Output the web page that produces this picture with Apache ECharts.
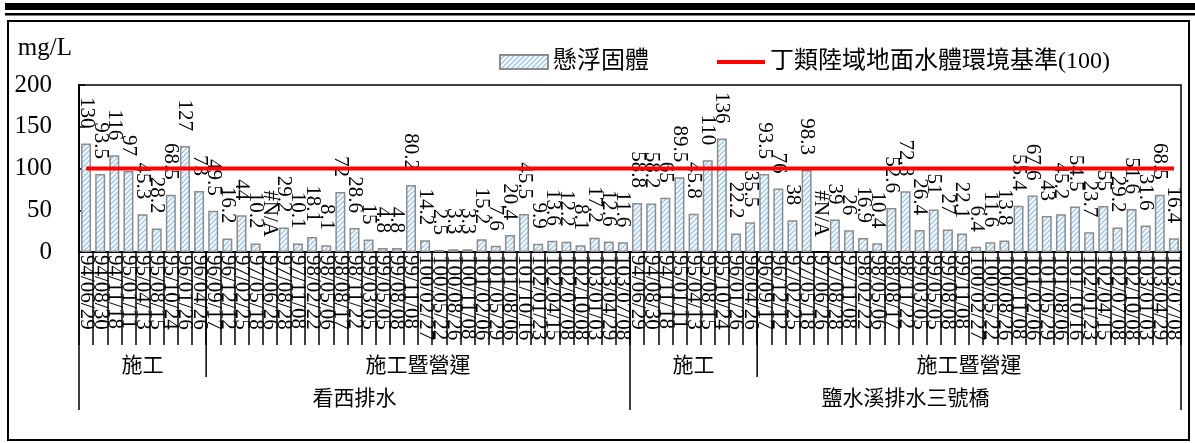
<!DOCTYPE html>
<html>
<head>
<meta charset="utf-8">
<title>懸浮固體</title>
<script src="https://cdn.jsdelivr.net/npm/echarts@6/dist/echarts.min.js"></script>
<style>
    html, body { margin: 0; padding: 0; background: #fff; }
    #chart { width: 1195px; height: 443px; }
</style>
</head>
<body>
<div id="chart"></div>
<script>
'use strict';

// 測站與階段
var stationNames = ['看西排水', '鹽水溪排水三號橋'];
var phaseNames = ['施工', '施工暨營運'];
var phaseSizes = [9, 30];

// 採樣日期（兩測站相同）
var sampleDates = [
    '94/06/29', '94/08/30', '94/11/18', '95/01/11', '95/04/13', '95/08/15', '95/10/24', '96/01/26', '96/04/26',
    '96/09/17', '96/12/12', '97/02/25', '97/05/18', '97/06/26', '97/08/28', '97/11/08', '98/02/22', '98/05/06',
    '98/08/17', '98/11/22', '99/03/05', '99/05/05', '99/08/08', '99/11/08', '100/02/27', '100/05/22', '100/08/26',
    '100/11/08', '101/02/06', '101/05/29', '101/08/06', '101/10/16', '102/01/23', '102/04/15', '102/07/08',
    '102/10/08', '103/01/03', '103/04/29', '103/07/08'
];

// 懸浮固體 mg/L，null 表示 #N/A
var ssKanxi = [130, 93.5, 116, 97, 45.3, 28.2, 68.5, 127, 73,
    49.5, 16.2, 44, 10.2, null, 29.2, 10.1, 18.1, 8.1, 72,
    28.6, 15, 4.8, 4.8, 80.2, 14.2, 2.5, 3.3, 3.3, 15.2,
    7.6, 20.4, 45.5, 9.9, 13.6, 12.2, 8.1, 17.2, 12.6, 11.6];
var ssYanshui = [58.8, 58.2, 65, 89.5, 45.8, 110, 136, 22.2, 35.5,
    93.5, 76, 38, 98.3, null, 39, 26, 16.9, 10.4, 52.6,
    72.8, 26.4, 51, 27, 22.1, 6.4, 11.6, 13.8, 55.4, 67.6,
    43, 45.2, 54.5, 23.7, 55, 29.2, 51.6, 31.6, 68.5, 16.4];

// 丁類陸域地面水體環境基準
var standardValue = 100;
var yTicks = [0, 50, 100, 150, 200];

var serif = "'Liberation Serif', 'Noto Sans CJK TC'";

// 斜線填充
var hatch = document.createElement('canvas');
hatch.width = 5;
hatch.height = 5;
(function () {
    var ctx = hatch.getContext('2d');
    ctx.fillStyle = '#ffffff';
    ctx.fillRect(0, 0, 5, 5);
    ctx.strokeStyle = '#a9cdf0';
    ctx.lineWidth = 1.6;
    ctx.beginPath();
    ctx.moveTo(-1, 6); ctx.lineTo(6, -1);
    ctx.moveTo(-1, 1); ctx.lineTo(1, -1);
    ctx.moveTo(4, 6); ctx.lineTo(6, 4);
    ctx.stroke();
})();

var categories = sampleDates.concat(sampleDates);
var ssAll = ssKanxi.concat(ssYanshui);

var barData = ssAll.map(function (v) {
    if (v === null) {
        return {value: 0, itemStyle: {borderWidth: 0}, label: {formatter: '#N/A'}};
    }
    return v;
});
var lineData = categories.map(function () {
    return standardValue;
});

var chart = echarts.init(document.getElementById('chart'));

var option = {
    animation: false,
    textStyle: {fontFamily: serif, color: '#000'},
    legend: {
        left: 494,
        top: 45,
        itemGap: 66,
        itemWidth: 48,
        itemHeight: 14,
        textStyle: {fontSize: 24, fontFamily: serif, color: '#000'},
        data: [
            {name: '懸浮固體', icon: 'rect'},
            {name: '丁類陸域地面水體環境基準(100)', itemStyle: {opacity: 0}, lineStyle: {width: 4, color: '#ff0000'}}
        ]
    },
    grid: {
        left: 79,
        right: 14,
        top: 85,
        bottom: 191,
        show: true,
        borderColor: '#000',
        borderWidth: 1.5
    },
    xAxis: {
        type: 'category',
        data: categories,
        axisLine: {lineStyle: {color: '#000', width: 2}},
        axisTick: {show: true, interval: 0, length: 93, lineStyle: {color: '#000', width: 1.5}},
        axisLabel: {
            interval: 0,
            rotate: -90,
            margin: 3,
            fontSize: 21,
            fontFamily: serif,
            color: '#000'
        }
    },
    yAxis: {
        type: 'value',
        min: yTicks[0],
        max: yTicks[yTicks.length - 1],
        interval: 50,
        name: 'mg/L',
        nameLocation: 'end',
        nameGap: 24,
        nameTextStyle: {fontSize: 25, fontFamily: serif, color: '#000', align: 'right', padding: [0, 7, 0, 0]},
        axisLine: {show: true, lineStyle: {color: '#000', width: 2}},
        axisTick: {show: true, inside: true, length: 6, lineStyle: {color: '#000', width: 1.5}},
        splitLine: {show: false},
        axisLabel: {fontSize: 25, fontFamily: serif, color: '#000', margin: 27}
    },
    series: [
        {
            name: '懸浮固體',
            type: 'bar',
            barWidth: 10,
            data: barData,
            itemStyle: {
                color: {image: hatch, repeat: 'repeat'},
                borderColor: '#8c8c8c',
                borderWidth: 1.5
            },
            label: {
                show: true,
                position: 'top',
                distance: 15,
                rotate: -90,
                align: 'right',
                verticalAlign: 'middle',
                fontSize: 21,
                fontFamily: serif,
                color: '#000'
            }
        },
        {
            name: '丁類陸域地面水體環境基準(100)',
            type: 'line',
            data: lineData,
            symbol: 'none',
            z: 3,
            lineStyle: {color: '#ff0000', width: 4},
            itemStyle: {color: '#ff0000'}
        }
    ]
};

chart.setOption(option);

// 多層分類標籤：依座標軸換算位置
var c0 = chart.convertToPixel({xAxisIndex: 0}, 0);
var c1 = chart.convertToPixel({xAxisIndex: 0}, 1);
var step = c1 - c0;
var axisY = chart.convertToPixel({yAxisIndex: 0}, 0);
var phaseBottom = 377;
var stationBottom = 410;

function edgeX(i) {
    return c0 + (i - 0.5) * step;
}

function vline(x, y2) {
    return {
        type: 'line',
        shape: {x1: x, y1: axisY, x2: x, y2: y2},
        style: {stroke: '#000', lineWidth: 1.5},
        silent: true
    };
}

function label(text, x, y) {
    return {
        type: 'text',
        x: x,
        y: y,
        style: {
            text: text,
            fontSize: 21,
            fontFamily: "'Noto Sans CJK TC'",
            fill: '#000',
            align: 'center',
            verticalAlign: 'middle'
        },
        silent: true
    };
}

var perStation = phaseSizes[0] + phaseSizes[1];
var elements = [
    // 上方雙線
    {type: 'rect', shape: {x: 5, y: 3, width: 1190, height: 7}, style: {fill: '#000'}, silent: true},
    {type: 'rect', shape: {x: 5, y: 13, width: 1190, height: 2.5}, style: {fill: '#000'}, silent: true},
    // 外框
    {type: 'rect', shape: {x: 8, y: 21, width: 1181, height: 419}, style: {fill: 'none', stroke: '#000', lineWidth: 2}, silent: true}
];

stationNames.forEach(function (name, s) {
    var start = s * perStation;
    var mid = start + phaseSizes[0];
    var end = start + perStation;
    elements.push(vline(edgeX(start), stationBottom));
    elements.push(vline(edgeX(mid), phaseBottom));
    elements.push(label(phaseNames[0], (edgeX(start) + edgeX(mid)) / 2, 364));
    elements.push(label(phaseNames[1], (edgeX(mid) + edgeX(end)) / 2, 364));
    elements.push(label(name, (edgeX(start) + edgeX(end)) / 2, 397));
});
elements.push(vline(edgeX(stationNames.length * perStation), stationBottom));

chart.setOption({graphic: elements});
</script>
</body>
</html>
